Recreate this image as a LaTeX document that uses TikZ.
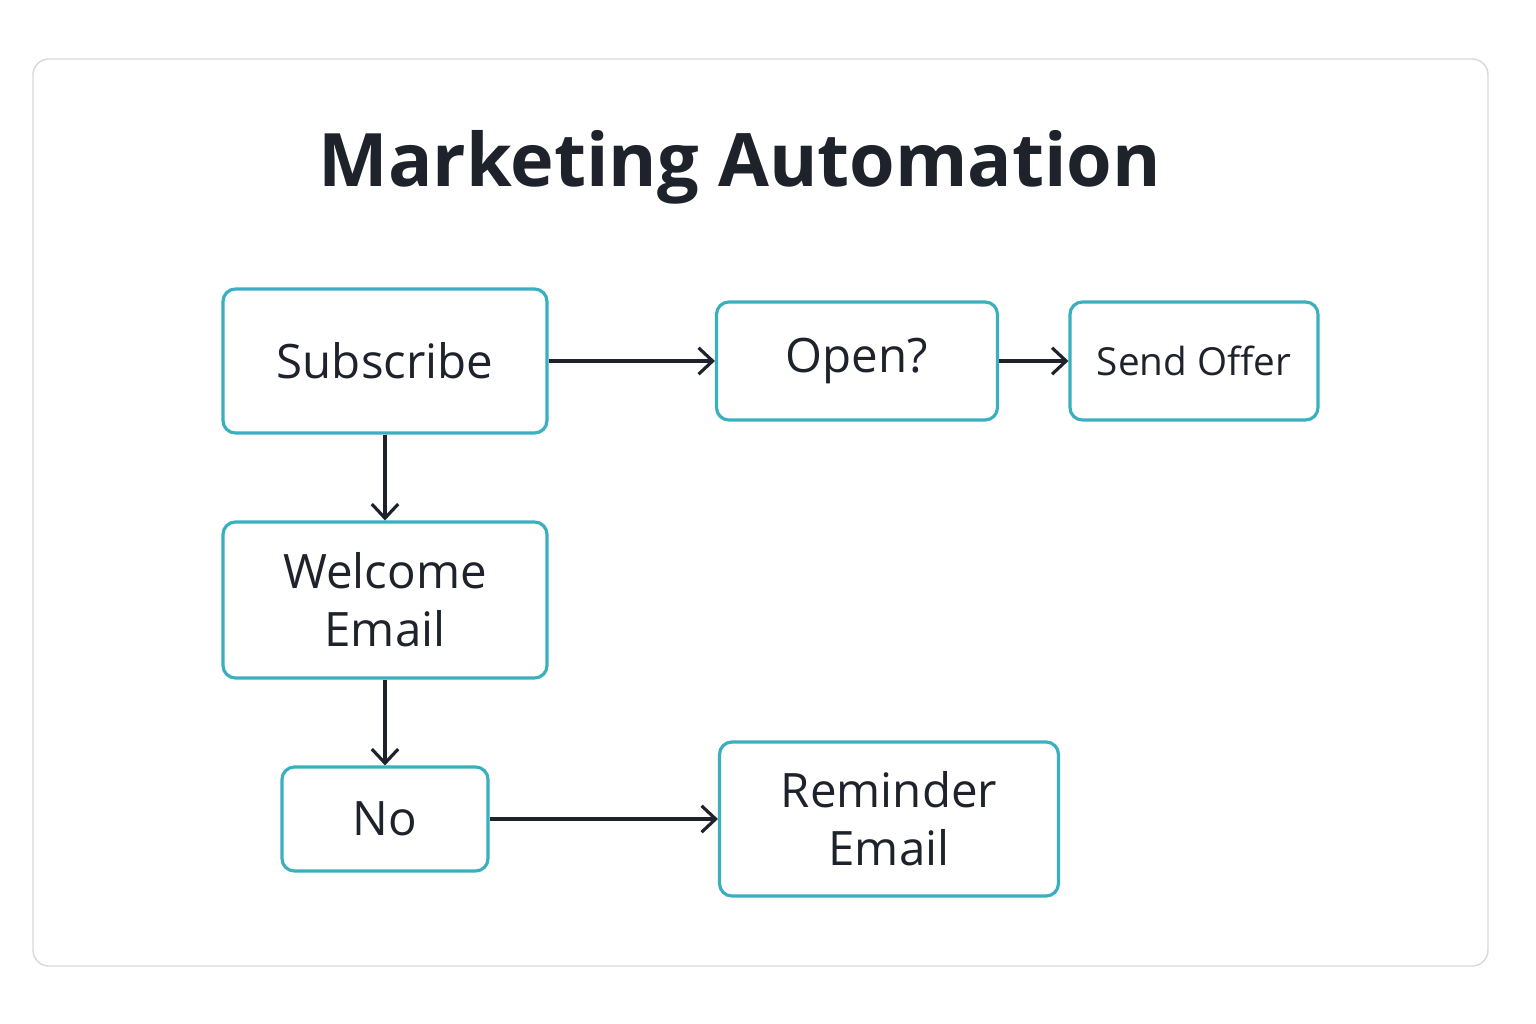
\documentclass[tikz,border=0pt]{standalone}
\usepackage{fontspec}
\setmainfont{Open Sans}
\usetikzlibrary{positioning,arrows.meta}
\definecolor{teal1}{HTML}{3AAFBF}
\definecolor{ink}{HTML}{1E232B}
\tikzset{
  box/.style={draw=teal1,line width=1.8pt,rounded corners=7pt,fill=white,
    text=ink,align=center,font=\fontsize{27}{33}\selectfont},
  link/.style={draw=ink,line width=1.8pt,-{Straight Barb[length=8pt,width=15pt,line width=1.8pt]}}
}
\begin{document}
\begin{tikzpicture}[x=0.02cm,y=-0.02cm]
\useasboundingbox (0,0) rectangle (1536,1024);
\fill[white] (0,0) rectangle (1536,1024);
\draw[black!15,line width=0.8pt,rounded corners=9pt] (33,59) rectangle (1488,966);
\node[text=ink,font=\fontsize{42}{50}\selectfont\bfseries] (title) at (740,167) {Marketing Automation};
% boxes
\node[box,minimum width=6.48cm,minimum height=2.88cm] (sub) at (385,361) {Subscribe};
\node[box,minimum width=5.62cm,minimum height=2.36cm] (open) at (857,361) {Open?};
\node[box,minimum width=4.96cm,minimum height=2.36cm,font=\fontsize{22}{27}\selectfont] (offer) at (1194,361) {Send Offer};
\node[box,minimum width=6.48cm,minimum height=3.12cm] (welcome) at (385,600) {Welcome\\Email};
\node[box,minimum width=4.12cm,minimum height=2.08cm] (no) at (385,819) {No};
\node[box,minimum width=6.78cm,minimum height=3.08cm] (remind) at (889,819) {Reminder\\Email};
% links
\draw[link] (sub) -- (open);
\draw[link] (open) -- (offer);
\draw[link] (sub) -- (welcome);
\draw[link] (welcome) -- (no);
\draw[link] (no) -- (remind);
\end{tikzpicture}
\end{document}
